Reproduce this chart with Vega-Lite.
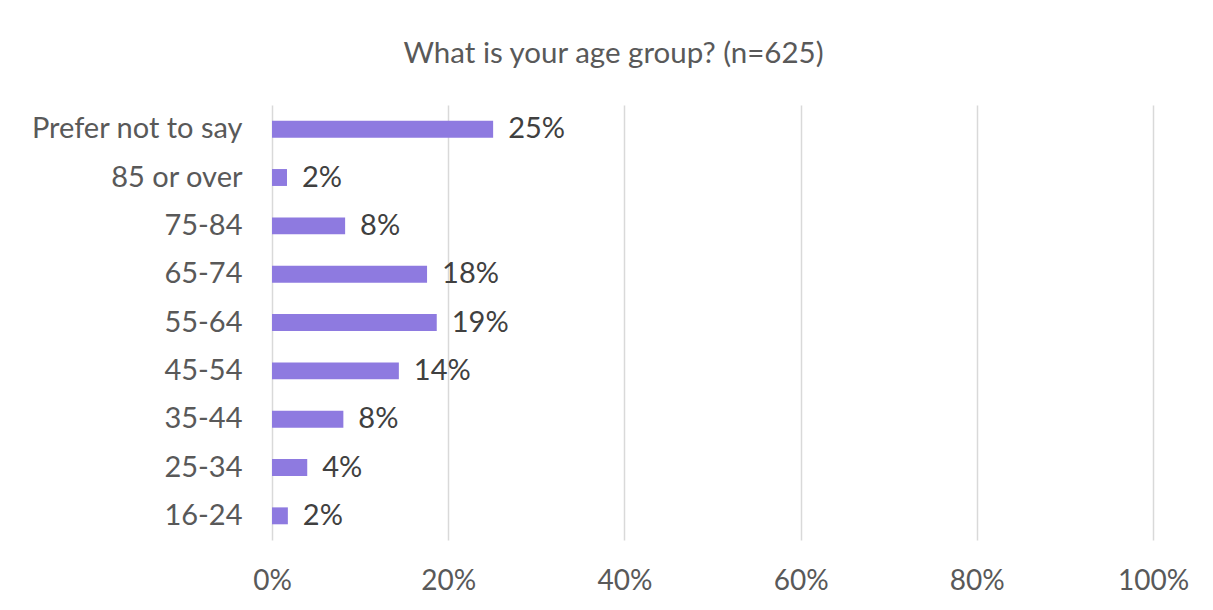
{
  "$schema": "https://vega.github.io/schema/vega-lite/v6.json",
  "width": 881,
  "height": 435,
  "autosize": {"type": "none"},
  "padding": {"left": 272, "top": 105, "right": 60, "bottom": 70},
  "background": "white",
  "title": {
    "text": "What is your age group? (n=625)",
    "font": "Lato",
    "fontSize": 29.5,
    "fontWeight": "normal",
    "color": "#595959",
    "anchor": "middle",
    "frame": "group",
    "dx": -99,
    "offset": 36
  },
  "data": {
    "values": [
      {"age": "Prefer not to say", "share": 0.251},
      {"age": "85 or over", "share": 0.017},
      {"age": "75-84", "share": 0.083},
      {"age": "65-74", "share": 0.176},
      {"age": "55-64", "share": 0.187},
      {"age": "45-54", "share": 0.144},
      {"age": "35-44", "share": 0.081},
      {"age": "25-34", "share": 0.040},
      {"age": "16-24", "share": 0.018}
    ]
  },
  "encoding": {
    "y": {
      "field": "age",
      "type": "nominal",
      "sort": null,
      "scale": {"paddingInner": 0.65, "paddingOuter": 0.325},
      "axis": {
        "title": null,
        "domain": false,
        "ticks": false,
        "labelFont": "Lato",
        "labelFontSize": 29,
        "labelColor": "#595959",
        "labelPadding": 30,
        "labelLimit": 400
      }
    },
    "x": {
      "field": "share",
      "type": "quantitative",
      "scale": {"domain": [0, 1]},
      "axis": {
        "title": null,
        "format": ".0%",
        "values": [0, 0.2, 0.4, 0.6, 0.8, 1],
        "domain": false,
        "ticks": false,
        "grid": true,
        "gridColor": "#d9d9d9",
        "gridWidth": 1.5,
        "labelFont": "Lato",
        "labelFontSize": 28,
        "labelColor": "#595959",
        "labelPadding": 27,
        "labelFlush": false,
        "labelOverlap": false
      }
    }
  },
  "layer": [
    {"mark": {"type": "bar", "color": "#8E7AE0"}},
    {
      "mark": {"type": "text", "align": "left", "baseline": "middle", "dx": 15, "font": "Lato", "fontSize": 29, "color": "#404040"},
      "encoding": {"text": {"field": "share", "type": "quantitative", "format": ".0%"}}
    }
  ],
  "config": {"view": {"stroke": null}}
}
